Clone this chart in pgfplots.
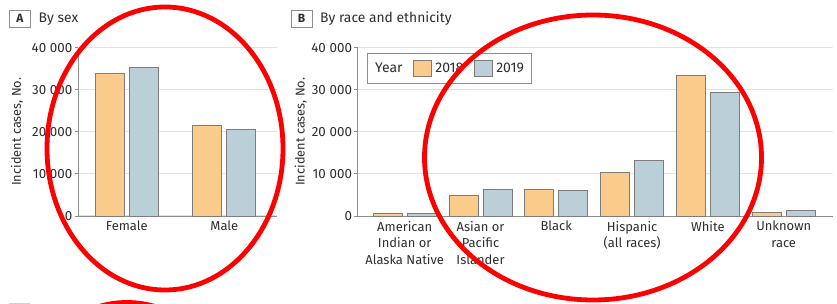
\documentclass[border=0pt]{standalone}
\usepackage{pgfplots}
\pgfplotsset{compat=1.18}
\usepackage{fontspec}
\setmainfont{Fira Sans}
\definecolor{orf}{HTML}{FBCB8C}
\definecolor{blf}{HTML}{BBCFD8}
\definecolor{edgec}{HTML}{7D7D7D}
\definecolor{gridc}{HTML}{E2E2E2}
\definecolor{axc}{HTML}{8E8E8E}
\definecolor{txt}{HTML}{2E2E2E}
\newcommand{\ts}{\hspace{0.28em}}
\pgfplotsset{
  myax/.style={
    scale only axis, height=168.3bp, ymin=0, ymax=40000,
    axis x line*=bottom, axis y line*=left,
    axis line style={axc, line width=0.9bp},
    scaled y ticks=false,
    ytick={0,10000,20000,30000,40000},
    yticklabels={0,10\ts000,20\ts000,30\ts000,40\ts000},
    ymajorgrids, grid style={gridc, line width=1bp},
    tick align=outside, major tick length=3.5bp,
    ytick style={axc, line width=0.9bp},
    xtick style={draw=none},
    xtick=data,
    tick label style={font=\fontsize{13}{16.5}\selectfont, text=txt},
    yticklabel style={inner sep=2bp, font=\fontsize{13.4}{16}\selectfont},
    xticklabel style={align=center, anchor=north, inner sep=0pt, yshift=-1.5bp},
    ylabel={Incident cases, No.},
    label style={font=\fontsize{12.8}{15}\selectfont, text=txt},
    ybar=5bp, bar width=29bp,
    every axis plot/.append style={draw=edgec, line width=0.9bp},
    clip=false,
  },
}
\begin{document}
\begin{tikzpicture}
\useasboundingbox (0bp,0bp) rectangle (837bp,304bp);
\clip (0bp,0bp) rectangle (837bp,304bp);
\coordinate (pa) at (78bp,88bp);
\coordinate (pb) at (357.7bp,88bp);
% panel labels
\node[draw=axc, line width=0.8bp, minimum width=21bp, minimum height=17.7bp, inner sep=0pt, font=\fontsize{12}{14}\selectfont\bfseries, text=txt] at (19.8bp,285.2bp) {A};
\node[anchor=west, inner sep=0pt, font=\fontsize{13.9}{16}\selectfont, text=txt] at (38.5bp,285.2bp) {By sex};
\node[draw=axc, line width=0.8bp, minimum width=21.3bp, minimum height=17.7bp, inner sep=0pt, font=\fontsize{12}{14}\selectfont\bfseries, text=txt] at (301.6bp,285.2bp) {B};
\node[anchor=west, inner sep=0pt, font=\fontsize{13.9}{16}\selectfont, text=txt] at (320bp,285.2bp) {By race and ethnicity};

\begin{axis}[myax, at={(pa)}, anchor=south west, width=199bp,
  xmin=-0.5, xmax=1.54,
  xticklabels={Female,Male},
  ylabel style={at={(rel axis cs:0,0.5)}, anchor=center, yshift=61bp},
]
\addplot[fill=orf] coordinates {(0,33900) (1,21500)};
\addplot[fill=blf] coordinates {(0,35300) (1,20600)};
\end{axis}

\begin{axis}[myax, at={(pb)}, anchor=south west, width=475.3bp,
  xmin=-0.62, xmax=5.65,
  xticklabels={American\\Indian or\\Alaska Native, Asian or\\Pacific\\Islander, Black, Hispanic\\(all races), White, Unknown\\race},
  ylabel style={at={(rel axis cs:0,0.5)}, anchor=center, yshift=57bp},
  legend style={at={(rel axis cs:0.0202,0.967)}, anchor=north west, draw=axc, line width=0.8bp,
    font=\fontsize{14}{15}\selectfont, text=txt, legend columns=-1,
    /tikz/every even column/.append style={column sep=9bp},
    inner xsep=5.5bp, inner ysep=6bp},
  legend image code/.code={\path (19bp,0bp); \draw[#1, line width=0.9bp] (0bp,-8.3bp) rectangle (17.4bp,8.3bp);},
]
\addlegendimage{empty legend}
\addlegendentry{Year}
\addplot[fill=orf] coordinates {(0,550) (1,4800) (2,6300) (3,10300) (4,33300) (5,900)};
\addlegendentry{2018}
\addplot[fill=blf] coordinates {(0,500) (1,6300) (2,6000) (3,13100) (4,29300) (5,1400)};
\addlegendentry{2019}
\end{axis}

% annotation ellipses
\draw[red, line width=4.8bp] (165bp,155.5bp) ellipse [x radius=118bp, y radius=141.5bp];
\draw[red, line width=4.8bp] (593bp,146.5bp) ellipse [x radius=168.5bp, y radius=142.5bp];
\draw[red, line width=4.8bp] (127bp,-139.5bp) ellipse [x radius=118bp, y radius=141bp];
\draw[gray!35, line width=1bp] (9bp,0.5bp) -- (30bp,0.5bp);
\end{tikzpicture}
\end{document}
